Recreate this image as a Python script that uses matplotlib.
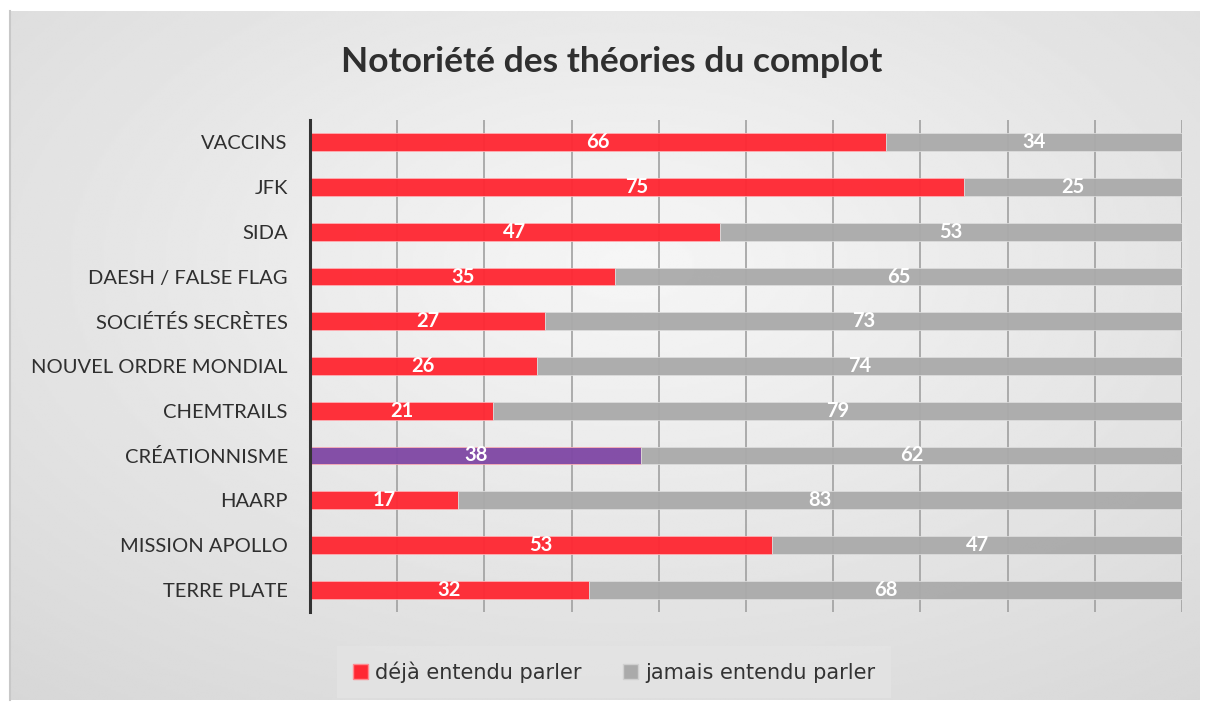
import numpy as np
import matplotlib
matplotlib.use("Agg")
import matplotlib.pyplot as plt
from matplotlib.patches import Patch

# data, top to bottom
categories = ["VACCINS", "JFK", "SIDA", "DAESH / FALSE FLAG", "SOCIÉTÉS SECRÈTES",
              "NOUVEL ORDRE MONDIAL", "CHEMTRAILS", "CRÉATIONNISME", "HAARP",
              "MISSION APOLLO", "TERRE PLATE"]
heard = [66, 75, 47, 35, 27, 26, 21, 38, 17, 53, 32]
never = [34, 25, 53, 65, 73, 74, 79, 62, 83, 47, 68]
highlight = "CRÉATIONNISME"

RED = "#ff2833"
PURPLE = "#8049a5"
GRAY = "#aaaaaa"

W, H = 1206, 711
fig = plt.figure(figsize=(W / 100, H / 100), dpi=100)
fig.patch.set_facecolor("white")

# panel background with soft radial gradient
bg = fig.add_axes([10 / W, 11 / H, 1190 / W, 689 / H])
yy, xx = np.mgrid[0:300, 0:500]
cx, cy = 260, 110
r = np.sqrt(((xx - cx) / 500) ** 2 + ((yy - cy) / 300) ** 2)
shade = 0.965 - 0.15 * r
bg.imshow(shade, cmap="gray", vmin=0, vmax=1, aspect="auto", interpolation="bilinear")
bg.set_xticks([])
bg.set_yticks([])
for s in bg.spines.values():
    s.set_visible(False)
bg.spines["left"].set_visible(True)
bg.spines["left"].set_color("#c8c8c8")
bg.spines["left"].set_linewidth(1.5)

ax = fig.add_axes([310 / W, 1 - 612 / H, 872 / W, 492 / H])
ax.patch.set_alpha(0)

y = np.arange(len(categories))
colors = [PURPLE if c == highlight else RED for c in categories]
ax.barh(y, heard, height=0.4, color=colors, edgecolor="#ffb0b5", linewidth=0.6, zorder=3, alpha=0.96)
ax.barh(y, never, left=heard, height=0.4, color=GRAY, edgecolor="#dcdcdc", linewidth=0.6, zorder=3, alpha=0.95)

for i in range(len(categories)):
    ax.text(heard[i] / 2, y[i], str(heard[i]), ha="center", va="center", color="white",
            fontsize=14.5, fontweight="bold", family="Lato", zorder=4)
    ax.text(heard[i] + never[i] / 2, y[i], str(never[i]), ha="center", va="center", color="white",
            fontsize=14.5, fontweight="bold", family="Lato", zorder=4)

ax.set_xlim(0, 100)
ax.set_ylim(len(categories) - 0.5, -0.5)
ax.set_xticks(np.arange(0, 101, 10))
ax.xaxis.grid(True, color="#a0a0a0", linewidth=1.2, zorder=1)
ax.tick_params(axis="x", length=0, labelbottom=False)
ax.tick_params(axis="y", length=0, pad=16)
ax.set_yticks(y)
ax.set_yticklabels(categories, fontsize=14.5, family="Lato", color="#2f2f2f")
for s in ["top", "right", "bottom"]:
    ax.spines[s].set_visible(False)
ax.spines["left"].set_color("#333333")
ax.spines["left"].set_linewidth(2.2)
ax.spines["left"].set_zorder(5)

fig.text(612 / W, 1 - 62 / H, "Notoriété des théories du complot", ha="center", va="center",
         fontsize=25.5, fontweight="bold", family="Lato", color="#2f2f2f")

handles = [Patch(facecolor=RED, edgecolor="#ff8a90", label="déjà entendu parler"),
           Patch(facecolor=GRAY, edgecolor="#d0d0d0", label="jamais entendu parler")]
leg = fig.legend(handles=handles, loc="center", bbox_to_anchor=(614 / W, 1 - 672 / H), ncol=2,
                 frameon=True, fontsize=15, handlelength=0.7, handleheight=0.7, handletextpad=0.35,
                 columnspacing=2.0, borderpad=0.75, borderaxespad=0, fancybox=False)
leg.get_frame().set_facecolor("#e4e4e4")
leg.get_frame().set_edgecolor("none")
for t in leg.get_texts():
    t.set_color("#333333")

fig.savefig("out.png", dpi=100)
